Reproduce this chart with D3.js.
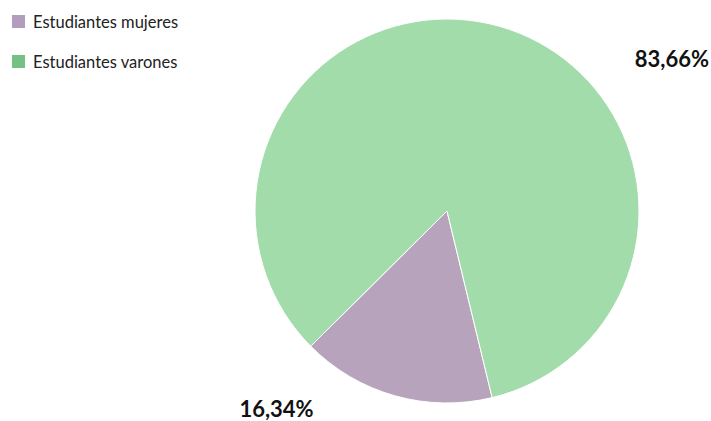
<!DOCTYPE html>
<html>
<head>
<meta charset="utf-8">
<script src="https://cdn.jsdelivr.net/npm/d3@7/dist/d3.min.js"></script>
<style>
  html, body { margin: 0; padding: 0; background: #ffffff; }
  svg { display: block; font-family: Lato, "Open Sans", sans-serif; }
</style>
</head>
<body>
<svg id="chart" width="711" height="421"></svg>
<script>
// Student population by gender
const categories = ["Estudiantes mujeres", "Estudiantes varones"];
const values = [16.34, 83.66];
const valueLabels = ["16,34%", "83,66%"];
const sliceColors = ["#b7a4bc", "#a1dcaa"];
const legendColors = ["#b39dbf", "#74c184"];

const svg = d3.select("#chart");
const cx = 447, cy = 211, radius = 192;

const startDeg = 166.4;
const pie = d3.pie().sort(null).value(d => d)
  .startAngle(startDeg * Math.PI / 180)
  .endAngle(startDeg * Math.PI / 180 + 2 * Math.PI);
const arcs = pie(values);
const arc = d3.arc().innerRadius(0).outerRadius(radius);

const g = svg.append("g").attr("transform", `translate(${cx},${cy})`);
g.selectAll("path").data(arcs).join("path")
  .attr("d", arc)
  .attr("fill", (d, i) => sliceColors[i])
  .attr("stroke", "#ffffff")
  .attr("stroke-width", 1);

// Percentage labels placed outside the pie
const labelPos = [
  { x: 276.5, y: 417, anchor: "middle" },
  { x: 709, y: 67, anchor: "end" }
];
svg.selectAll("text.pct").data(arcs).join("text")
  .attr("class", "pct")
  .attr("x", (d, i) => labelPos[i].x)
  .attr("y", (d, i) => labelPos[i].y)
  .attr("text-anchor", (d, i) => labelPos[i].anchor)
  .attr("font-size", 22)
  .attr("font-weight", "bold")
  .attr("fill", "#111111")
  .text((d, i) => valueLabels[i]);

// Legend
const legend = svg.append("g").attr("transform", "translate(12,15)");
const items = legend.selectAll("g").data(categories).join("g")
  .attr("transform", (d, i) => `translate(0,${i * 40})`);
items.append("rect")
  .attr("width", 13).attr("height", 13)
  .attr("fill", (d, i) => legendColors[i]);
items.append("text")
  .attr("x", 21).attr("y", 12.5)
  .attr("font-size", 16.5)
  .attr("fill", "#222222")
  .text(d => d);
</script>
</body>
</html>
